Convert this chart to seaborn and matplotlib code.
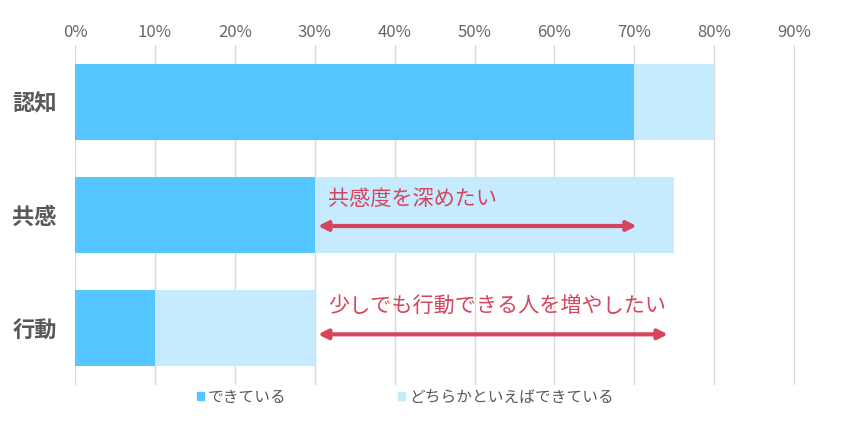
import matplotlib
matplotlib.use("Agg")
import matplotlib.pyplot as plt
import matplotlib.patches as mpatches
import seaborn as sns
import pandas as pd

# data
categories = ["認知", "共感", "行動"]
done = [70, 30, 10]            # できている
rather_done = [10, 45, 20]     # どちらかといえばできている
series_names = ["できている", "どちらかといえばできている"]
x_ticks = [0, 10, 20, 30, 40, 50, 60, 70, 80, 90]
tick_labels = ["{}%".format(t) for t in x_ticks]

# annotations (category, arrow start, arrow end, text)
notes = [("共感", 30.4, 70.3, "共感度を深めたい"),
         ("行動", 30.4, 74.2, "少しでも行動できる人を増やしたい")]

dark = "#55C6FF"
light = "#C6EBFF"
red = "#D6455E"
grey = "#595959"

sns.set_theme(style="white")
plt.rcParams['font.family'] = ['Noto Sans CJK JP', 'DejaVu Sans']

df = pd.DataFrame({"category": categories, "done": done, "rather": rather_done})
df["total"] = df["done"] + df["rather"]

fig = plt.figure(figsize=(8.47, 4.36), dpi=100)
ax = fig.add_axes([75/847, 1-385/436, 720/847, 340/436])

sns.barplot(data=df, y="category", x="total", color=light, width=0.67,
            orient="h", ax=ax, saturation=1, linewidth=0)
sns.barplot(data=df, y="category", x="done", color=dark, width=0.67,
            orient="h", ax=ax, saturation=1, linewidth=0)

ax.set_xlim(0, 90.1)
ax.set_ylim(2.5, -0.5)
ax.set_xticks(x_ticks)
ax.set_xticklabels(tick_labels)
ax.xaxis.tick_top()
ax.tick_params(axis="x", length=0, pad=3, labelsize=12, labelcolor="#666666")
ax.tick_params(axis="y", length=0, pad=13, labelsize=16, labelcolor=grey)
for lab in ax.get_yticklabels():
    lab.set_fontweight("bold")
ax.set_xlabel("")
ax.set_ylabel("")
ax.grid(axis="x", color="#D9D9D9", lw=1)
ax.set_axisbelow(True)
for s in ax.spines.values():
    s.set_visible(False)

ypos = {c: i for i, c in enumerate(categories)}
for cat, x0, x1, txt in notes:
    i = ypos[cat]
    dy_arrow = 0.097 if i == 1 else 0.053
    dy_text = -0.14 if i == 1 else -0.2
    ax.annotate("", xy=(x1, i + dy_arrow), xytext=(x0, i + dy_arrow),
                arrowprops=dict(arrowstyle="<|-|>", color=red, lw=3,
                                mutation_scale=14, shrinkA=0, shrinkB=0))
    ax.text(x0 + 1.3, i + dy_text, txt, color=red, fontsize=15.2,
            va="center", ha="left")

handles = [mpatches.Patch(color=dark, label=series_names[0]),
           mpatches.Patch(color=light, label=series_names[1])]
fig.legend(handles=handles, loc="center left", bbox_to_anchor=(197/847, 1-397/436),
           ncol=2, frameon=False, fontsize=11.3, handlelength=0.45, handleheight=0.45,
           handletextpad=0.25, columnspacing=7.1, borderpad=0, borderaxespad=0,
           labelcolor=grey)

fig.savefig("out.png", dpi=100)
